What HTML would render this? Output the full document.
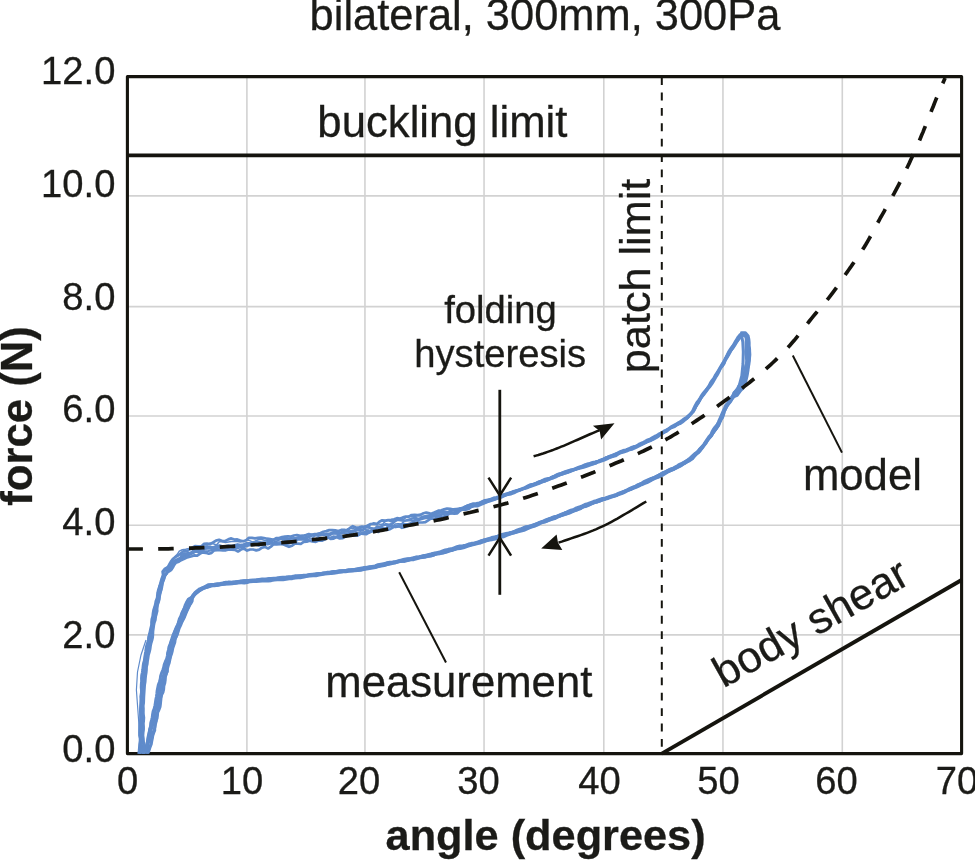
<!DOCTYPE html>
<html lang="en"><head><meta charset="utf-8"><title>bilateral, 300mm, 300Pa</title>
<style>html,body{margin:0;padding:0;background:#fff}svg{display:block}</style></head>
<body>
<svg width="975" height="860" viewBox="0 0 975 860">
<rect width="975" height="860" fill="#fff"/>
<line x1="246.9" y1="76.6" x2="246.9" y2="753.6" stroke="#d2d2d2" stroke-width="1.6"/>
<line x1="364.95" y1="76.6" x2="364.95" y2="753.6" stroke="#d2d2d2" stroke-width="1.6"/>
<line x1="484.05" y1="76.6" x2="484.05" y2="753.6" stroke="#d2d2d2" stroke-width="1.6"/>
<line x1="603.8" y1="76.6" x2="603.8" y2="753.6" stroke="#d2d2d2" stroke-width="1.6"/>
<line x1="722.95" y1="76.6" x2="722.95" y2="753.6" stroke="#d2d2d2" stroke-width="1.6"/>
<line x1="842.3" y1="76.6" x2="842.3" y2="753.6" stroke="#d2d2d2" stroke-width="1.6"/>
<line x1="127.4" y1="195.9" x2="961.6" y2="195.9" stroke="#d2d2d2" stroke-width="1.6"/>
<line x1="127.4" y1="306.6" x2="961.6" y2="306.6" stroke="#d2d2d2" stroke-width="1.6"/>
<line x1="127.4" y1="416.0" x2="961.6" y2="416.0" stroke="#d2d2d2" stroke-width="1.6"/>
<line x1="127.4" y1="525.25" x2="961.6" y2="525.25" stroke="#d2d2d2" stroke-width="1.6"/>
<line x1="127.4" y1="634.85" x2="961.6" y2="634.85" stroke="#d2d2d2" stroke-width="1.6"/>
<rect x="127.4" y="76.6" width="834.2" height="677.0" fill="none" stroke="#15140e" stroke-width="3.1" stroke-linejoin="round"/>
<clipPath id="pc"><rect x="120" y="70" width="850" height="683.7"/></clipPath><g clip-path="url(#pc)">
<polyline points="741.5,332.6 745.4,332.6 748.2,336.0 748.9,339.4 749.2,342.5 749.2,345.6 749.6,348.6 749.7,351.6 749.9,354.6 749.6,357.7 749.4,360.8 749.0,363.9 748.4,366.9 748.1,369.9 747.6,372.9 747.1,375.9 746.4,379.0 745.6,382.2 744.5,385.2 743.2,388.1 740.8,390.4 739.0,393.0 737.2,395.4 734.0,396.6 732.1,399.0 730.7,401.6 728.8,403.9 727.0,406.3 725.7,408.9 724.3,411.6 723.6,414.6 722.6,417.4 721.0,420.0 719.8,422.8 718.6,425.6 716.8,428.0 714.9,430.4 713.1,432.8 711.7,435.5 709.8,437.8 707.8,440.1 706.3,442.8 704.5,445.2 702.7,447.6 700.9,450.0 698.8,452.2 696.4,454.1 694.4,456.4 692.5,458.9 689.9,460.6 687.2,461.9 684.6,463.5 681.9,464.8 679.3,466.3 676.7,468.0 674.0,469.3 671.2,470.4 668.4,471.6 665.9,473.3 663.4,474.9 660.6,476.1 658.0,477.5 655.1,478.5 652.4,479.7 649.8,481.2 647.1,482.6 644.3,483.6 641.5,484.8 638.8,486.2 636.1,487.4 633.3,488.4 630.5,489.7 627.7,490.7 625.0,492.1 622.3,493.5 619.5,494.5 616.6,495.5 613.8,496.4 611.0,497.5 608.1,498.5 605.2,499.2 602.4,500.2 599.6,501.2 596.7,502.0 593.9,503.0 591.1,504.1 588.4,505.4 585.6,506.6 582.6,507.2 579.8,508.3 577.1,509.7 574.5,511.0 571.6,512.1 568.9,513.3 566.0,514.1 563.0,514.7 560.3,516.0 557.6,517.3 554.8,518.6 551.9,519.4 549.1,520.3 546.3,521.5 543.4,522.2 540.6,523.2 537.9,524.8 535.2,526.0 532.3,526.9 529.5,527.9 526.7,529.1 524.0,530.3 521.1,531.1 518.1,531.8 515.2,532.5 512.3,533.4 509.4,534.3 506.7,535.4 503.9,536.8 500.9,537.3 498.0,538.0 495.2,539.1 492.3,539.7 489.3,540.1 486.4,540.9 483.5,542.0 480.7,543.0 477.8,543.6 474.9,544.4 471.9,545.0 469.1,545.9 466.2,546.8 463.4,547.9 460.4,548.5 457.4,548.7 454.5,549.7 451.7,550.5 448.8,551.5 446.0,552.4 443.0,553.1 440.1,553.7 437.1,554.0 434.2,555.0 431.3,555.9 428.4,556.4 425.3,556.4 422.3,557.0 419.5,557.8 416.5,558.4 413.6,558.9 410.6,559.7 407.7,560.5 404.8,561.2 401.8,561.2 398.8,561.6 395.9,562.6 393.0,563.4 390.1,564.1 387.2,564.7 384.3,565.5 381.3,566.0 378.4,566.7 375.5,567.6 372.5,568.0 369.6,568.6 366.6,569.1 363.6,569.6 360.7,570.3 357.7,570.6 354.7,570.8 351.7,571.0 348.7,571.3 345.7,571.7 342.7,571.9 339.7,572.2 336.8,572.9 333.8,573.3 330.8,573.6 327.8,573.7 324.9,574.1 321.9,574.6 319.0,575.2 316.0,575.8 313.0,575.7 310.0,576.1 307.0,576.4 304.1,577.1 301.1,577.7 298.1,577.7 295.1,578.0 292.2,578.7 289.2,578.9 286.2,579.4 283.2,579.7 280.2,579.7 277.2,579.8 274.2,580.1 271.2,580.7 268.2,581.1 265.2,581.1 262.2,581.1 259.2,581.3 256.2,581.5 253.2,581.6 250.2,581.7 247.3,582.5 244.3,583.1 241.3,582.9 238.3,582.9 235.3,583.4 232.3,583.8 229.3,584.0 226.3,584.1 223.4,584.4 220.4,584.8 217.5,585.3 214.5,585.7 211.5,585.9 208.7,586.9 205.9,587.7 203.0,588.4 200.5,590.0 198.0,591.6 195.8,593.6 193.8,595.8 192.0,598.0 192.1,601.4 190.6,604.0 188.8,606.4 187.7,609.2 186.6,612.0 185.4,614.8 184.3,617.6 182.9,620.2 181.6,622.9 180.5,625.7 179.2,628.4 178.3,631.2 177.4,634.1 176.2,636.8 174.7,639.4 173.7,642.2 173.1,645.2 172.1,648.0 170.9,650.8 170.5,653.8 170.2,656.8 169.4,659.7 168.5,662.6 167.4,665.4 167.0,668.4 167.1,671.5 166.2,674.3 165.3,677.2 165.2,680.3 164.8,683.2 163.5,686.0 162.7,688.9 162.1,691.8 161.4,694.7 160.7,697.6 159.9,700.5 159.5,703.5 158.6,706.4 158.3,709.4 157.7,712.3 156.6,715.1 156.3,718.1 156.3,721.2 155.5,724.1 155.1,727.1 154.1,729.9 153.0,732.8 152.5,735.8 151.6,738.7 151.2,741.7 150.9,744.8 149.9,747.7 149.0,750.6 147.9,753.4 147.6,754.3" fill="none" stroke="#5f8bcb" stroke-width="2.9" stroke-linejoin="round" stroke-linecap="round"/>
<polyline points="741.8,334.2 744.9,333.8 747.2,336.4 747.5,339.5 747.7,342.6 748.4,345.6 748.5,348.6 748.0,351.6 748.2,354.6 748.0,357.6 748.2,360.7 748.1,363.7 747.9,366.8 747.5,369.8 747.0,372.8 746.4,375.8 745.6,378.8 744.8,381.8 743.6,384.7 742.0,387.4 740.3,390.0 738.4,392.4 736.6,394.9 733.7,396.4 731.9,398.8 730.1,401.3 728.4,403.7 726.6,406.1 725.3,408.8 724.2,411.6 723.4,414.5 722.2,417.2 720.7,419.9 719.4,422.6 718.2,425.4 716.8,428.1 715.0,430.5 713.1,432.9 711.5,435.4 709.5,437.6 707.5,440.0 706.0,442.6 704.2,445.0 702.4,447.4 700.1,449.3 698.2,451.7 696.4,454.1 694.3,456.3 692.0,458.4 689.3,459.8 687.0,461.6 684.5,463.4 682.1,465.2 679.4,466.6 676.6,467.7 673.9,469.1 671.2,470.4 668.4,471.6 665.6,472.7 663.0,474.1 660.4,475.5 657.8,477.1 654.9,478.1 652.2,479.4 649.6,480.8 646.7,481.8 644.1,483.3 641.3,484.4 638.6,485.6 635.8,486.8 633.1,488.1 630.4,489.4 627.5,490.3 624.8,491.7 622.0,492.7 619.1,493.6 616.6,495.5 613.8,496.4 610.7,496.6 607.9,497.8 605.2,499.1 602.3,499.9 599.6,501.2 596.8,502.2 593.8,502.8 591.0,504.0 588.3,505.1 585.3,505.7 582.7,507.3 580.1,509.0 577.3,510.0 574.3,510.6 571.4,511.5 568.7,512.8 566.0,514.1 563.2,515.2 560.2,515.7 557.4,516.7 554.7,518.2 551.8,519.1 549.0,520.0 546.3,521.5 543.4,522.3 540.5,523.1 537.8,524.4 535.0,525.5 532.0,526.2 529.3,527.3 526.5,528.4 523.5,529.1 520.7,530.0 518.0,531.4 515.2,532.6 512.3,533.3 509.4,534.1 506.4,534.7 503.5,535.4 500.7,536.6 498.0,537.8 495.0,538.5 492.1,539.2 489.1,539.7 486.2,540.3 483.4,541.3 480.4,541.9 477.6,542.9 474.7,543.9 471.8,544.7 468.9,545.3 466.0,545.9 463.1,546.7 460.2,547.6 457.3,548.6 454.5,549.4 451.6,550.3 448.6,550.9 445.8,551.8 443.0,552.9 440.0,553.4 437.0,553.9 434.2,554.9 431.3,555.8 428.4,556.4 425.5,557.2 422.5,557.6 419.5,557.9 416.6,558.9 413.7,559.7 410.7,559.9 407.7,560.4 404.8,561.2 401.8,561.4 398.8,561.9 395.9,562.7 393.0,563.0 390.0,563.7 387.1,564.5 384.2,565.0 381.2,565.5 378.3,566.3 375.4,567.0 372.4,567.4 369.4,567.8 366.5,568.4 363.6,569.3 360.6,569.8 357.7,570.3 354.7,570.6 351.7,570.7 348.7,570.9 345.7,571.1 342.7,571.7 339.7,571.8 336.7,572.0 333.7,572.5 330.7,572.5 327.7,572.8 324.8,573.6 321.9,574.2 318.8,574.3 315.8,574.5 312.9,575.0 309.9,575.3 307.0,576.2 304.0,576.6 301.0,576.8 298.0,577.2 295.0,577.2 292.0,577.4 289.0,577.4 286.0,577.5 283.0,577.9 280.1,578.5 277.1,578.7 274.1,578.8 271.1,579.7 268.2,580.0 265.1,579.8 262.2,580.3 259.2,580.6 256.2,580.4 253.2,580.8 250.2,581.4 247.2,581.7 244.3,582.2 241.3,582.6 238.3,582.8 235.3,583.2 232.3,583.4 229.3,583.5 226.3,583.7 223.3,584.1 220.4,584.7 217.5,585.3 214.5,585.4 211.5,585.7 208.6,586.6 205.9,587.7 203.2,588.7 200.5,590.1 198.2,591.8 195.8,593.6 193.8,595.9 192.5,598.4 191.6,601.2 189.8,603.5 189.1,606.6 187.6,609.2 185.9,611.7 185.0,614.6 183.7,617.3 182.5,620.0 180.9,622.6 179.4,625.2 178.4,628.0 177.7,631.0 177.2,634.0 176.1,636.7 175.2,639.6 174.8,642.5 173.8,645.4 172.8,648.2 172.3,651.1 171.5,654.0 170.5,656.9 169.9,659.8 169.3,662.8 168.3,665.6 167.5,668.5 167.3,671.5 166.0,674.3 165.1,677.1 164.7,680.1 164.2,683.1 163.9,686.1 163.7,689.1 163.1,692.0 161.7,694.8 161.1,697.7 160.8,700.7 160.5,703.7 160.1,706.7 159.1,709.5 157.7,712.3 157.5,715.3 157.1,718.3 155.8,721.1 155.0,724.0 154.6,727.0 154.8,730.1 153.7,732.9 152.8,735.8 152.3,738.8 151.7,741.8 150.9,744.8 149.3,747.5 148.4,750.4 147.3,753.2 147.0,754.1" fill="none" stroke="#5f8bcb" stroke-width="2.9" stroke-linejoin="round" stroke-linecap="round"/>
<polyline points="741.8,334.7 744.8,334.1 746.7,336.7 746.9,339.5 747.6,342.6 747.6,345.6 748.1,348.6 747.9,351.6 748.5,354.6 748.8,357.7 748.8,360.7 748.2,363.8 748.0,366.8 747.1,369.8 746.6,372.7 745.7,375.6 744.5,378.5 743.5,381.4 742.6,384.2 741.3,386.9 739.3,389.2 737.6,391.8 735.7,394.2 733.5,396.3 731.5,398.5 730.0,401.2 728.3,403.6 726.4,406.0 724.9,408.6 723.6,411.3 722.6,414.1 721.0,416.8 720.1,419.6 718.7,422.2 717.2,424.8 716.0,427.6 714.7,430.3 713.2,432.9 711.1,435.1 709.3,437.5 707.7,440.1 705.8,442.4 703.9,444.8 702.2,447.2 700.6,449.8 698.9,452.3 696.4,454.1 694.0,456.0 691.9,458.2 689.3,459.8 686.9,461.5 684.4,463.2 681.6,464.3 678.9,465.6 676.4,467.4 673.9,469.0 671.0,470.0 668.3,471.3 665.6,472.6 662.7,473.4 660.0,474.8 657.3,476.2 654.6,477.5 651.8,478.6 649.1,479.9 646.6,481.5 643.9,482.8 641.1,484.0 638.5,485.4 635.7,486.5 633.0,487.9 630.3,489.3 627.5,490.3 624.8,491.7 622.1,493.0 619.2,493.9 616.5,495.1 613.6,495.9 610.7,496.8 608.0,498.0 605.1,499.0 602.2,499.6 599.4,500.8 596.6,501.9 593.8,502.7 590.9,503.7 587.9,504.3 585.2,505.6 582.6,507.1 579.9,508.4 577.1,509.5 574.1,510.2 571.5,511.7 568.6,512.5 565.5,512.8 562.9,514.5 560.3,516.1 557.3,516.5 554.4,517.3 551.5,518.2 548.7,519.3 545.9,520.4 543.1,521.5 540.4,522.7 537.5,523.7 534.7,524.8 532.0,526.0 529.2,527.1 526.1,527.5 523.3,528.5 520.5,529.6 517.6,530.4 514.9,531.5 512.0,532.5 509.1,533.2 506.3,534.2 503.5,535.5 500.5,536.0 497.6,536.6 494.8,537.7 492.0,538.6 489.1,539.6 486.3,540.6 483.4,541.4 480.4,542.0 477.5,542.6 474.5,543.1 471.7,544.2 468.8,545.0 465.9,545.6 463.0,546.4 460.2,547.5 457.3,548.2 454.4,549.1 451.5,549.8 448.6,550.7 445.7,551.6 442.8,552.3 439.9,553.0 436.9,553.5 434.0,554.2 431.1,554.9 428.1,555.3 425.2,555.7 422.3,556.7 419.3,557.2 416.4,557.8 413.4,558.4 410.5,558.8 407.5,559.5 404.6,559.9 401.7,560.9 398.7,561.3 395.8,562.0 392.8,562.5 389.8,562.8 387.0,563.8 384.1,564.6 381.1,565.1 378.2,566.0 375.3,566.4 372.2,566.6 369.3,567.3 366.4,567.9 363.4,568.3 360.5,568.9 357.5,569.0 354.5,569.4 351.6,569.9 348.6,570.0 345.6,570.5 342.6,571.1 339.6,571.3 336.6,571.6 333.7,572.2 330.8,573.3 327.8,573.5 324.8,573.6 321.8,573.8 318.8,574.1 315.8,574.6 312.8,574.7 309.9,575.0 306.9,575.6 303.9,575.7 300.9,575.8 297.9,576.4 295.0,577.1 292.0,577.2 289.0,577.2 286.0,577.7 283.1,578.0 280.0,578.1 277.0,578.1 274.1,578.7 271.1,578.7 268.1,579.1 265.1,579.6 262.1,579.5 259.1,579.6 256.1,580.1 253.2,580.6 250.1,580.6 247.1,580.6 244.2,581.0 241.2,581.6 238.2,582.0 235.2,582.0 232.2,582.3 229.2,582.9 226.3,583.5 223.3,584.1 220.3,584.3 217.4,584.7 214.4,585.1 211.4,585.4 208.5,586.3 205.7,587.2 202.9,588.1 200.4,589.8 197.9,591.4 195.6,593.5 193.4,595.5 191.6,597.8 190.7,600.7 189.2,603.3 188.1,606.1 186.8,608.8 185.5,611.5 184.2,614.2 182.9,616.9 181.6,619.6 180.1,622.3 178.7,625.0 177.9,627.9 176.9,630.7 175.7,633.5 174.7,636.3 173.6,639.0 172.6,641.9 171.8,644.8 171.6,647.8 170.7,650.7 169.4,653.5 168.5,656.3 167.5,659.2 167.0,662.2 166.5,665.1 165.7,668.0 165.1,671.0 164.1,673.8 163.2,676.7 162.6,679.6 162.2,682.6 161.5,685.5 160.6,688.4 160.2,691.4 159.8,694.4 159.3,697.3 158.9,700.3 157.8,703.1 156.9,706.0 155.8,708.8 155.1,711.8 155.0,714.8 154.6,717.8 154.4,720.8 153.4,723.7 152.1,726.5 151.3,729.4 150.8,732.4 150.4,735.3 149.5,738.2 148.8,741.1 148.2,744.0 147.4,746.9 146.6,749.7 145.3,752.5 144.7,753.2" fill="none" stroke="#5f8bcb" stroke-width="2.9" stroke-linejoin="round" stroke-linecap="round"/>
<polyline points="741.9,335.4 744.3,335.2 746.1,337.0 746.7,339.6 747.0,342.6 746.5,345.6 746.4,348.6 746.5,351.6 746.3,354.6 746.4,357.6 746.7,360.6 746.6,363.6 745.8,366.5 745.2,369.4 744.5,372.3 744.0,375.2 743.4,378.1 742.6,381.0 740.7,383.4 739.3,385.7 738.0,388.2 736.3,390.7 734.1,392.9 732.8,395.8 731.2,398.3 729.8,401.0 728.1,403.5 726.6,406.1 725.5,408.9 723.8,411.4 722.5,414.1 721.6,417.0 720.4,419.8 719.4,422.6 717.8,425.1 716.3,427.7 714.5,430.1 712.7,432.5 711.3,435.2 709.4,437.6 707.5,440.0 705.7,442.4 703.8,444.7 701.8,446.9 699.7,449.0 697.9,451.3 695.9,453.6 693.5,455.4 691.3,457.5 689.2,459.7 686.5,460.9 683.8,462.2 681.6,464.3 678.8,465.5 676.0,466.5 673.4,468.0 670.6,469.1 667.9,470.5 665.3,471.9 662.4,472.9 659.8,474.4 657.3,476.1 654.6,477.4 651.7,478.4 649.0,479.7 646.4,481.2 643.7,482.5 640.9,483.5 638.1,484.6 635.5,486.1 632.7,487.2 629.9,488.3 627.2,489.7 624.5,491.1 621.9,492.4 619.1,493.6 616.4,494.8 613.5,495.7 610.7,496.6 607.9,497.7 605.0,498.6 602.1,499.4 599.2,500.1 596.4,501.1 593.6,502.3 590.9,503.6 588.0,504.6 585.1,505.3 582.4,506.5 579.5,507.4 576.7,508.6 574.0,509.8 571.3,511.2 568.4,512.0 565.4,512.6 562.7,514.0 559.9,515.0 557.1,516.0 554.4,517.4 551.5,518.2 548.6,519.2 546.0,520.6 543.1,521.5 540.3,522.4 537.5,523.5 534.7,524.7 531.8,525.6 529.1,526.8 526.3,527.8 523.3,528.3 520.6,529.6 517.8,530.8 515.0,531.8 512.1,532.7 509.2,533.5 506.4,534.7 503.5,535.3 500.5,535.7 497.6,536.5 494.8,537.6 492.0,538.8 489.1,539.4 486.0,539.6 483.1,540.2 480.3,541.6 477.5,542.7 474.6,543.5 471.7,544.1 468.7,544.6 465.9,545.8 463.0,546.5 460.1,547.1 457.2,548.1 454.3,548.9 451.3,549.4 448.5,550.3 445.6,551.2 442.8,552.1 439.8,552.8 436.8,553.0 433.8,553.4 431.0,554.4 428.1,555.2 425.1,555.4 422.1,556.0 419.3,556.9 416.3,557.3 413.3,557.9 410.4,558.7 407.5,559.1 404.5,559.8 401.6,560.6 398.7,561.1 395.7,561.6 392.8,562.1 389.8,562.5 386.8,563.0 383.9,564.0 381.0,564.6 378.1,565.4 375.2,566.2 372.2,566.7 369.3,567.2 366.3,567.5 363.4,568.0 360.5,568.8 357.5,569.3 354.6,569.6 351.5,569.7 348.6,570.2 345.6,571.0 342.6,570.8 339.6,571.2 336.7,571.7 333.6,571.8 330.7,572.2 327.7,572.6 324.7,572.9 321.8,573.5 318.8,573.7 315.7,573.8 312.8,574.4 309.9,575.0 306.9,575.4 303.9,575.8 300.9,575.9 297.9,576.1 295.0,576.9 292.0,577.3 289.0,577.4 286.0,577.8 283.1,578.1 280.1,578.5 277.1,579.1 274.1,578.7 271.1,578.5 268.1,578.9 265.1,579.1 262.1,579.5 259.1,580.1 256.1,580.3 253.1,580.4 250.2,580.8 247.2,581.0 244.2,581.0 241.2,581.2 238.2,581.6 235.2,582.2 232.2,582.1 229.1,581.9 226.2,582.9 223.3,583.5 220.3,583.9 217.3,584.3 214.3,584.5 211.4,585.1 208.4,585.9 205.5,586.7 202.7,587.8 200.2,589.6 197.7,591.1 195.1,592.9 193.0,595.2 191.5,597.7 188.7,599.5 187.2,602.2 186.1,605.1 184.6,607.8 183.1,610.4 181.7,613.1 180.9,616.0 179.4,618.7 178.6,621.7 177.8,624.6 176.3,627.3 175.3,630.1 174.4,633.0 173.5,635.9 172.3,638.6 171.4,641.5 170.4,644.4 170.0,647.4 168.9,650.2 168.2,653.1 168.2,656.3 167.5,659.2 166.4,662.0 166.3,665.1 165.5,668.0 164.6,670.8 164.3,673.8 163.4,676.7 162.4,679.6 161.4,682.4 160.2,685.2 159.5,688.1 159.1,691.1 158.7,694.1 157.7,697.0 156.6,699.8 155.8,702.7 155.4,705.7 154.8,708.6 154.0,711.5 153.2,714.4 153.0,717.5 152.7,720.5 151.8,723.4 150.8,726.2 149.8,729.1 149.3,732.0 148.9,735.0 148.3,737.9 147.6,740.8 147.0,743.7 146.6,746.6 145.3,749.3 143.9,751.9 143.8,752.9" fill="none" stroke="#5f8bcb" stroke-width="2.9" stroke-linejoin="round" stroke-linecap="round"/>
<polyline points="741.9,335.7 744.4,335.0 746.0,337.0 746.2,339.6 746.1,342.7 746.1,345.7 746.1,348.7 745.8,351.7 746.1,354.6 746.8,357.6 747.1,360.6 746.5,363.5 745.7,366.5 745.2,369.4 744.9,372.4 744.0,375.2 743.2,378.1 742.4,380.9 740.9,383.5 739.1,385.6 737.7,388.0 736.0,390.5 734.0,392.8 732.8,395.7 731.0,398.2 729.3,400.7 727.5,403.1 725.6,405.5 724.4,408.3 723.1,411.1 721.9,413.8 720.8,416.7 719.5,419.3 718.4,422.1 717.1,424.7 715.1,427.0 713.3,429.3 711.9,432.0 710.7,434.8 708.6,437.1 706.9,439.5 705.3,442.1 703.7,444.6 701.8,446.9 699.8,449.1 697.9,451.4 695.4,453.1 693.2,455.1 691.0,457.1 688.8,459.0 686.5,460.8 684.0,462.4 681.2,463.6 678.5,464.9 676.1,466.8 673.5,468.2 670.6,469.1 667.9,470.4 665.2,471.7 662.5,473.1 659.9,474.7 657.2,475.9 654.5,477.3 651.7,478.4 648.9,479.4 646.1,480.5 643.4,481.8 641.0,483.6 638.3,485.1 635.7,486.5 632.8,487.5 630.1,488.8 627.4,490.0 624.6,491.1 621.7,492.1 618.9,493.1 616.2,494.3 613.4,495.4 610.5,496.1 607.7,497.1 604.9,498.2 601.8,498.5 599.0,499.5 596.2,500.6 593.3,501.5 590.5,502.6 587.7,503.7 584.8,504.5 582.1,505.8 579.3,507.0 576.5,507.9 573.8,509.3 570.9,510.1 568.1,511.4 565.5,512.8 562.6,513.7 559.8,514.8 557.1,516.1 554.1,516.7 551.3,517.8 548.5,518.8 545.7,519.9 543.0,521.2 540.1,522.1 537.4,523.4 534.6,524.3 531.7,525.3 528.8,526.1 525.8,526.6 523.1,527.8 520.3,529.0 517.5,529.9 514.7,531.1 511.9,532.1 509.0,532.8 506.0,533.4 503.1,534.1 500.3,535.0 497.5,536.1 494.6,536.8 491.6,537.5 488.8,538.5 485.9,539.3 483.1,540.2 480.2,541.0 477.3,542.0 474.5,543.1 471.5,543.3 468.6,544.0 465.7,545.1 462.8,545.7 459.8,546.0 456.9,546.7 454.0,547.8 451.2,548.8 448.2,549.3 445.3,549.9 442.5,550.9 439.6,552.0 436.7,552.6 433.8,553.1 430.9,553.9 428.0,554.6 425.1,555.3 422.2,556.1 419.2,556.6 416.2,557.0 413.3,557.8 410.4,558.5 407.4,558.6 404.4,559.2 401.5,560.0 398.6,560.7 395.7,561.6 392.7,562.0 389.7,562.2 386.7,562.8 383.8,563.6 380.9,564.1 377.9,564.7 375.1,565.8 372.2,566.5 369.2,566.7 366.3,567.3 363.4,567.8 360.4,568.1 357.5,568.8 354.5,569.5 351.6,569.8 348.6,570.0 345.6,570.5 342.6,570.7 339.6,570.8 336.6,571.2 333.6,571.4 330.6,571.9 327.6,572.2 324.7,572.8 321.7,573.2 318.7,573.4 315.8,574.1 312.8,574.2 309.8,574.4 306.8,574.9 303.8,575.1 300.9,575.6 297.8,575.6 294.9,575.8 291.9,576.4 288.9,576.6 286.0,577.0 283.0,577.1 280.0,577.5 277.0,577.9 274.0,578.2 271.0,578.5 268.1,578.8 265.1,579.1 262.1,579.0 259.1,579.4 256.1,579.9 253.1,580.0 250.1,580.3 247.1,580.8 244.1,580.8 241.1,580.9 238.2,581.4 235.2,582.0 232.2,582.4 229.2,582.5 226.1,582.3 223.2,582.8 220.2,583.5 217.2,583.6 214.3,584.1 211.2,584.4 208.1,584.8 205.4,586.3 202.7,587.7 199.7,588.8 197.2,590.6 194.9,592.6 193.0,595.1 191.2,597.5 188.3,599.3 186.7,602.0 185.3,604.8 184.4,607.7 183.3,610.5 182.5,613.5 181.2,616.2 180.1,619.0 178.9,621.8 177.8,624.6 176.6,627.3 175.2,630.1 174.0,632.9 172.8,635.6 171.9,638.5 170.9,641.4 170.0,644.2 168.9,647.1 168.4,650.1 167.6,653.0 167.3,656.0 166.6,658.9 165.3,661.7 164.2,664.5 163.6,667.5 162.7,670.3 161.5,673.1 160.6,676.0 160.2,679.0 159.4,681.9 158.3,684.8 157.7,687.7 157.1,690.7 156.8,693.7 156.4,696.7 155.8,699.6 155.4,702.6 154.9,705.6 154.2,708.5 153.1,711.3 152.6,714.3 152.2,717.3 151.5,720.2 150.7,723.1 150.5,726.2 149.8,729.1 149.3,732.0 148.5,734.9 147.9,737.8 147.6,740.8 147.0,743.7 146.0,746.4 145.2,749.2 144.4,752.2 143.8,752.9" fill="none" stroke="#5f8bcb" stroke-width="2.9" stroke-linejoin="round" stroke-linecap="round"/>
<polyline points="138.7,753.4 139.1,750.4 139.4,747.4 139.7,744.5 140.1,741.5 140.2,738.5 139.5,735.5 139.5,732.5 139.6,729.5 139.8,726.5 140.2,723.5 140.7,720.5 140.9,717.5 140.8,714.5 140.3,711.5 140.4,708.5 140.7,705.5 140.7,702.5 140.8,699.5 140.8,696.5 141.4,693.5 141.4,690.5 141.1,687.4 141.2,684.4 141.5,681.4 141.4,678.3 141.6,675.3 142.3,672.3 142.7,669.3 143.0,666.3 143.4,663.4 144.3,660.4 144.6,657.4 145.1,654.4 145.6,651.5 146.0,648.5 146.6,645.5 147.6,642.7 148.3,639.8 148.8,636.8 149.5,633.9 150.1,631.0 150.7,628.0 151.5,625.1 151.5,622.1 151.8,619.1 152.7,616.2 153.0,613.2 153.5,610.2 154.5,607.3 155.3,604.4 155.8,601.4 157.0,598.6 157.7,595.7 157.7,592.6 158.4,589.6 159.3,586.8 160.2,583.9 161.0,581.0 162.1,578.1 163.1,575.2 162.6,571.5 164.6,569.0 167.8,567.3 169.3,564.5 170.9,561.6 172.8,559.1 175.3,557.1 178.1,555.5 180.7,553.5 183.1,551.4 186.6,551.4 189.4,549.8 192.0,547.6 194.9,546.2 198.1,546.3 201.3,546.4 203.9,543.9 207.0,543.6 210.2,544.1 213.0,542.5 216.0,540.6 219.1,539.8 222.3,541.1 225.3,541.0 228.3,539.4 231.3,538.4 234.3,539.6 237.3,539.4 240.3,540.5 243.4,541.3 246.2,540.3 248.9,537.8 251.9,537.9 255.0,538.3 258.0,537.9 261.0,537.5 264.0,538.0 267.1,538.7 270.2,539.2 273.3,539.8 276.1,538.2 279.1,538.0 282.1,537.1 285.0,536.6 288.0,536.3 291.0,536.5 293.9,535.5 296.9,535.0 300.0,535.8 302.9,535.7 305.9,535.0 308.8,534.1 311.8,534.7 314.7,534.0 317.7,533.8 320.6,533.0 323.4,531.7 326.3,531.1 329.2,530.1 332.2,530.1 335.3,530.4 338.4,531.0 341.3,529.9 344.3,529.8 347.5,530.5 350.0,527.8 352.8,526.2 356.2,527.8 359.1,527.4 362.0,526.6 365.2,527.1 367.9,525.4 370.7,524.0 373.7,523.9 376.8,524.2 379.4,521.8 382.2,520.3 385.3,520.6 388.2,520.0 391.2,519.9 394.1,519.3 397.0,518.2 400.1,518.5 402.9,517.4 405.8,516.6 408.9,516.7 411.6,515.0 414.6,514.8 417.7,515.0 420.7,514.6 423.5,513.3 426.3,512.5 429.6,513.3 432.8,514.0 435.5,511.9 438.3,510.6 441.3,510.4 444.2,509.4 447.1,508.5 450.2,508.8 453.4,509.6 456.4,509.4 459.3,508.7 462.2,508.2 464.9,506.8 467.7,505.7 470.5,504.6 473.3,503.6 476.3,503.3 479.4,502.9 482.1,501.5 484.9,500.3 487.9,499.9 490.8,499.1 493.5,497.9 496.4,497.2 499.3,496.4 502.1,495.3 504.9,494.2 507.8,493.3 510.6,492.4 513.4,491.3 516.4,490.6 519.2,489.7 522.0,488.5 524.8,487.4 527.5,486.0 530.1,484.6 533.1,484.0 536.0,483.0 538.7,481.8 541.5,480.7 544.2,479.4 547.1,478.6 550.1,478.1 552.9,477.0 555.5,475.4 558.2,474.0 561.1,473.2 563.9,472.1 566.7,471.0 569.6,470.2 572.6,469.7 575.4,468.5 578.1,467.3 581.0,466.4 583.8,465.1 586.7,464.4 589.6,463.6 592.3,462.4 595.3,461.9 598.2,461.0 600.9,459.7 603.7,458.7 606.4,457.6 609.1,456.2 612.0,455.3 614.8,454.3 617.5,452.9 620.2,451.5 623.0,450.4 626.0,449.7 628.8,448.6 631.5,447.3 634.4,446.4 637.2,445.4 639.7,443.7 642.5,442.6 645.1,441.2 647.7,439.7 650.5,438.7 653.0,437.1 655.6,435.8 658.2,434.3 660.8,432.9 663.4,431.3 666.1,430.0 668.8,428.5 671.1,426.6 673.8,425.1 676.5,423.7 679.0,422.3 681.5,420.7 683.8,418.9 686.3,417.3 688.6,415.4 690.7,413.4 692.5,411.1 693.7,408.4 695.0,405.6 696.5,402.9 698.3,400.5 700.0,398.0 701.5,395.3 703.3,392.9 705.2,390.6 707.1,388.3 708.9,385.9 710.2,383.1 711.8,380.6 713.6,378.3 715.0,375.6 716.7,373.1 718.3,370.6 719.7,367.9 721.2,365.4 722.8,362.8 724.3,360.2 725.7,357.6 727.1,354.9 728.4,352.1 730.0,349.6 731.7,347.1 733.5,344.7 734.9,342.0 736.5,339.4 738.1,336.8 740.1,334.5 741.1,334.0" fill="none" stroke="#5f8bcb" stroke-width="2.7" stroke-linejoin="round" stroke-linecap="round"/>
<polyline points="140.2,753.5 140.1,750.5 140.2,747.5 140.5,744.5 140.6,741.5 140.3,738.5 140.5,735.5 140.7,732.5 140.5,729.5 140.6,726.5 140.3,723.5 140.1,720.5 140.0,717.5 140.0,714.5 140.2,711.5 140.2,708.5 140.3,705.5 140.7,702.5 140.9,699.5 141.0,696.5 140.8,693.4 140.9,690.4 141.1,687.4 141.6,684.4 142.1,681.4 142.5,678.4 143.2,675.5 144.0,672.5 144.4,669.6 144.6,666.6 144.7,663.5 145.1,660.6 146.2,657.7 146.8,654.8 147.8,651.9 147.8,648.8 147.7,645.7 148.4,642.8 148.7,639.8 149.7,637.0 150.4,634.0 150.4,631.0 151.2,628.1 152.0,625.2 152.5,622.2 152.5,619.2 153.0,616.2 153.8,613.3 154.3,610.4 155.0,607.4 155.5,604.5 156.0,601.5 156.6,598.5 156.7,595.4 157.5,592.5 158.4,589.6 159.1,586.7 160.3,583.9 161.0,581.0 161.5,577.9 162.7,575.0 163.4,571.9 165.7,569.6 168.9,568.2 170.3,565.3 171.8,562.6 173.3,559.7 174.9,556.5 177.3,554.3 179.3,551.1 182.3,549.7 185.7,549.3 189.0,548.6 192.5,549.5 195.5,548.5 198.3,547.1 201.3,546.4 204.1,545.1 207.2,545.0 210.0,543.0 213.2,543.8 216.5,545.0 219.2,541.7 222.3,541.8 225.4,542.4 228.4,541.9 231.4,541.6 234.4,541.4 237.4,541.4 240.4,541.9 243.4,541.3 246.2,539.8 249.2,540.4 252.3,541.9 255.3,541.2 258.1,539.6 261.1,539.2 264.3,540.2 267.3,540.7 270.4,541.2 273.5,541.9 276.4,541.3 279.3,539.8 282.2,538.8 285.1,537.5 288.2,538.1 291.2,538.4 294.2,537.8 297.2,538.4 300.1,537.3 303.2,537.7 306.3,538.3 309.2,537.3 312.0,536.1 314.9,535.4 318.0,535.5 320.8,534.5 323.8,533.8 326.8,533.9 329.8,533.9 332.5,531.9 335.5,531.4 338.9,533.4 342.0,533.7 344.6,531.6 347.2,529.0 350.1,528.3 353.2,528.6 356.1,527.4 359.3,528.5 362.3,528.0 364.9,525.7 368.0,526.1 370.8,524.7 373.5,522.8 376.7,523.4 379.9,524.4 382.8,523.9 385.4,521.4 388.3,520.6 391.6,522.0 394.3,519.9 397.0,518.5 400.3,519.6 403.3,519.4 406.0,517.6 408.8,516.3 411.9,516.7 415.0,516.5 417.9,515.8 421.0,516.1 424.2,516.7 427.4,517.0 430.0,514.9 432.5,512.6 435.5,511.9 438.6,512.3 441.5,511.3 444.1,509.1 447.2,509.0 450.3,509.3 453.2,508.8 456.1,508.5 459.2,508.4 462.1,507.9 464.8,506.5 467.4,504.9 470.4,504.3 473.5,504.2 476.5,503.6 479.5,503.2 482.2,501.8 484.9,500.3 487.8,499.7 490.9,499.4 493.6,498.3 496.6,497.5 499.4,496.7 502.0,495.1 504.8,493.8 507.8,493.3 510.7,492.6 513.4,491.3 516.2,490.1 519.1,489.3 522.1,488.8 524.8,487.3 527.4,485.8 530.3,485.1 533.2,484.2 535.9,482.9 538.6,481.5 541.4,480.5 544.2,479.5 547.1,478.6 549.9,477.4 552.5,476.0 555.5,475.4 558.4,474.5 561.1,473.1 563.9,472.1 566.8,471.1 569.6,470.2 572.6,469.5 575.5,468.7 578.2,467.5 581.0,466.4 584.0,465.9 586.9,465.1 589.7,463.9 592.4,462.8 595.3,461.8 598.1,460.9 600.9,459.9 603.7,458.8 606.5,457.6 609.3,456.7 612.1,455.5 614.8,454.2 617.6,453.2 620.5,452.2 623.2,450.9 626.1,450.0 629.0,449.1 631.6,447.7 634.4,446.5 637.3,445.6 640.0,444.3 642.7,443.1 645.3,441.6 647.9,440.2 650.7,439.1 653.3,437.6 656.1,436.6 659.0,435.7 661.4,433.7 663.6,431.6 666.3,430.3 668.7,428.4 671.3,426.8 674.3,426.0 676.7,424.2 679.4,422.8 682.2,421.8 684.6,419.9 687.0,418.0 689.1,415.9 690.8,413.5 692.8,411.3 694.4,408.8 695.9,406.2 697.2,403.4 698.5,400.6 700.0,398.0 701.8,395.6 703.8,393.3 705.9,391.1 707.9,388.8 709.1,386.0 710.6,383.4 712.7,381.2 714.0,378.5 715.3,375.8 716.8,373.2 718.2,370.5 719.9,368.1 721.6,365.6 723.1,363.0 724.3,360.2 725.5,357.4 726.7,354.7 728.7,352.3 730.5,349.9 731.9,347.3 733.7,344.8 735.5,342.4 737.5,340.2 739.2,337.7 740.8,335.1 741.4,334.3" fill="none" stroke="#5f8bcb" stroke-width="1.5" stroke-linejoin="round" stroke-linecap="round"/>
<polyline points="139.6,753.5 139.6,750.5 139.8,747.5 139.9,744.5 140.2,741.5 140.7,738.5 140.9,735.5 141.4,732.5 140.7,729.5 140.3,726.5 140.3,723.5 140.6,720.5 141.2,717.5 140.8,714.5 141.0,711.5 141.3,708.5 141.1,705.5 141.4,702.5 141.4,699.5 141.1,696.5 141.1,693.5 141.7,690.5 142.2,687.5 142.5,684.5 142.9,681.5 143.3,678.5 143.3,675.5 143.6,672.5 144.0,669.5 144.0,666.5 144.4,663.5 144.9,660.5 145.3,657.5 145.8,654.6 146.4,651.6 146.7,648.6 147.6,645.7 148.4,642.8 148.6,639.8 148.8,636.8 149.7,633.9 151.0,631.1 151.8,628.2 152.0,625.2 152.5,622.2 153.0,619.3 153.5,616.3 154.5,613.4 154.8,610.4 155.6,607.5 156.5,604.7 157.3,601.7 158.2,598.9 158.9,595.9 159.3,592.9 159.5,589.9 160.5,587.1 161.1,584.2 162.3,581.4 163.2,578.5 163.7,575.4 163.6,572.0 165.6,569.6 167.8,567.3 170.5,565.5 172.6,563.3 174.3,560.9 177.1,559.5 179.8,558.1 182.5,556.8 185.2,555.7 187.4,553.3 190.6,553.2 193.5,552.7 196.1,551.2 199.5,552.5 202.3,551.3 204.8,548.6 207.8,548.5 210.8,547.9 213.7,547.2 216.6,546.0 219.6,545.4 222.7,546.4 225.7,546.3 228.6,545.5 231.7,546.0 234.6,545.2 237.6,544.4 240.6,545.0 243.6,544.5 246.5,543.3 249.5,543.2 252.5,543.3 255.3,541.8 258.4,541.9 261.5,542.6 264.5,542.5 267.5,542.2 270.3,540.5 273.3,539.7 276.3,539.4 279.3,539.3 282.2,538.5 285.3,539.0 288.3,539.2 291.2,538.2 294.3,538.7 297.2,537.9 300.1,536.8 303.2,537.9 306.3,538.5 309.0,536.2 311.8,534.7 314.9,535.0 317.7,534.0 320.8,534.3 323.9,535.1 326.8,533.8 329.8,533.6 332.7,533.2 335.7,532.8 338.8,533.1 341.8,532.9 344.6,531.4 347.6,531.2 350.7,531.6 353.6,530.6 356.5,529.5 359.6,530.2 362.7,530.4 365.2,527.4 368.1,526.4 371.6,528.9 374.7,529.2 377.5,527.9 380.4,526.9 383.1,525.4 386.0,524.2 389.1,524.7 392.0,523.9 394.6,521.5 397.3,519.8 400.5,520.3 403.6,520.7 406.6,520.2 409.5,519.4 412.3,518.6 415.3,518.0 418.5,518.9 421.4,517.9 424.1,516.4 427.1,515.7 430.1,515.4 433.1,515.4 435.9,514.0 438.7,512.8 441.7,512.3 444.7,511.9 447.8,512.1 450.6,510.7 453.5,510.0 456.6,510.3 459.3,509.0 462.4,508.7 465.4,508.5 468.0,506.6 470.6,505.0 473.6,504.7 476.7,504.3 479.4,503.0 482.3,502.1 484.9,500.6 487.9,500.0 491.1,500.0 494.0,499.4 496.9,498.4 499.6,497.2 502.5,496.3 505.3,495.1 508.0,493.8 510.7,492.7 513.6,491.8 516.5,490.8 519.3,490.0 522.2,489.1 525.0,487.9 527.7,486.8 530.5,485.5 533.3,484.4 536.1,483.4 538.9,482.3 541.7,481.2 544.5,480.3 547.4,479.3 550.1,478.1 552.8,476.8 555.5,475.3 558.3,474.3 561.1,473.2 564.0,472.3 566.9,471.4 569.7,470.3 572.6,469.5 575.5,468.8 578.4,468.0 581.2,466.9 583.9,465.5 586.6,464.1 589.5,463.4 592.5,462.9 595.4,462.1 598.3,461.3 601.1,460.3 603.8,458.9 606.4,457.5 609.2,456.5 612.1,455.5 614.9,454.3 617.6,453.2 620.5,452.2 623.3,451.2 626.1,450.1 629.0,449.2 631.8,448.0 634.5,446.7 637.3,445.7 640.2,444.9 642.9,443.5 645.6,442.2 648.4,441.2 651.0,439.7 653.7,438.4 656.3,436.9 658.9,435.5 661.4,433.8 663.9,432.1 666.4,430.4 668.9,428.8 671.8,427.8 674.7,426.7 677.2,425.0 679.5,422.9 681.9,421.3 684.5,419.8 687.2,418.3 689.4,416.1 691.0,413.6 692.9,411.4 694.6,408.9 696.0,406.2 697.5,403.6 699.4,401.2 700.9,398.6 702.4,396.0 704.0,393.5 705.7,391.0 707.5,388.5 709.2,386.1 710.9,383.6 712.8,381.3 714.3,378.7 715.8,376.1 717.6,373.6 718.7,370.9 720.2,368.2 721.5,365.5 723.4,363.2 724.9,360.6 726.1,357.8 727.9,355.3 729.5,352.8 731.0,350.2 732.5,347.6 733.8,344.9 735.5,342.4 737.7,340.3 739.6,337.9 741.4,335.5 741.8,334.6" fill="none" stroke="#5f8bcb" stroke-width="2.6" stroke-linejoin="round" stroke-linecap="round"/>
<polyline points="140.9,753.5 141.2,750.5 140.9,747.5 141.1,744.5 141.2,741.5 140.8,738.5 141.0,735.5 141.4,732.5 141.5,729.5 141.7,726.5 141.5,723.5 141.0,720.5 141.1,717.5 141.2,714.5 140.9,711.5 141.4,708.5 141.6,705.5 141.1,702.5 141.4,699.5 141.9,696.5 142.0,693.5 142.2,690.5 142.8,687.5 143.0,684.5 142.6,681.5 143.1,678.5 144.0,675.6 144.1,672.6 144.2,669.5 144.4,666.5 144.8,663.6 145.6,660.6 146.4,657.7 146.9,654.8 147.3,651.8 147.8,648.8 148.5,645.9 149.1,643.0 149.7,640.0 150.6,637.1 151.5,634.2 152.4,631.3 153.1,628.4 153.0,625.4 153.4,622.4 154.0,619.4 154.0,616.4 154.9,613.5 156.5,610.8 157.1,607.8 157.2,604.8 157.8,601.9 158.8,599.0 159.2,596.0 159.4,593.0 160.2,590.1 161.2,587.3 162.0,584.4 162.5,581.5 163.5,578.6 164.7,575.9 166.4,573.4 167.6,570.8 169.5,568.6 171.2,566.1 173.2,564.0 174.9,561.6 177.4,559.9 179.9,558.3 182.3,556.5 185.5,556.4 188.4,555.5 190.5,553.0 193.1,551.4 196.3,551.8 199.5,552.5 202.3,551.5 205.4,551.5 208.3,551.2 211.2,550.7 214.0,549.5 216.9,548.5 219.8,547.4 222.8,547.7 225.8,548.0 228.7,546.2 231.8,548.1 234.7,547.2 237.7,545.6 240.7,546.6 243.8,547.6 246.7,545.8 249.7,545.4 252.7,545.2 255.6,544.2 258.6,543.7 261.5,543.1 264.5,543.1 267.5,542.2 270.5,542.5 273.6,542.9 276.5,542.1 279.5,542.1 282.5,541.4 285.4,540.1 288.3,539.0 291.3,538.9 294.2,538.2 297.1,537.2 300.1,536.9 303.2,537.5 306.0,536.5 309.3,538.2 312.3,538.0 315.0,535.6 318.0,535.7 320.9,535.2 323.9,535.1 327.0,535.1 329.9,534.2 332.7,533.1 335.8,533.4 338.8,532.9 341.6,531.7 345.0,533.6 348.0,533.6 350.6,530.7 353.6,530.7 357.0,532.3 359.9,531.9 362.6,529.6 365.6,529.3 368.6,529.1 371.4,527.7 374.5,528.2 377.6,528.3 380.6,527.9 383.0,525.0 386.1,525.1 389.5,526.5 392.5,526.4 395.1,524.1 398.1,523.7 401.2,524.1 403.8,521.6 406.7,520.6 409.8,520.8 412.8,520.7 415.6,519.4 418.6,519.1 421.5,518.4 424.5,517.9 427.6,518.2 430.6,518.0 433.3,516.2 435.8,513.7 439.0,513.9 442.0,514.0 444.9,513.0 447.9,512.5 450.8,512.1 453.9,512.0 456.8,511.1 459.7,510.2 462.7,509.9 465.4,508.5 468.3,507.7 471.2,507.0 473.9,505.4 476.7,504.4 479.8,504.2 482.8,503.7 485.6,502.5 488.3,501.4 491.0,500.0 493.8,498.7 496.8,498.2 499.8,497.6 502.5,496.5 505.3,495.4 508.0,494.1 510.8,492.9 513.8,492.2 516.6,491.2 519.4,490.3 522.2,489.1 525.0,488.0 527.9,487.2 530.6,485.9 533.4,484.7 536.3,484.0 539.0,482.6 541.7,481.3 544.6,480.4 547.4,479.4 550.0,477.8 552.9,477.0 555.8,476.1 558.5,474.8 561.3,473.7 564.2,472.8 567.0,471.8 569.8,470.7 572.6,469.8 575.6,469.2 578.5,468.4 581.4,467.6 584.3,466.8 587.1,465.7 589.9,464.6 592.8,463.8 595.6,462.8 598.4,461.7 601.2,460.5 603.9,459.3 606.7,458.1 609.5,457.0 612.3,456.0 615.2,455.2 618.0,454.1 620.8,452.9 623.5,451.7 626.3,450.6 629.0,449.2 631.9,448.3 634.9,447.6 637.5,446.1 640.2,444.8 643.0,443.8 645.6,442.3 648.3,440.9 651.2,440.0 653.9,438.9 656.4,437.1 658.9,435.5 661.2,433.5 663.9,432.1 666.6,430.8 669.0,429.0 671.7,427.5 674.4,426.3 677.1,424.9 679.6,423.2 681.9,421.2 684.1,419.3 686.5,417.5 688.5,415.3 690.4,413.1 692.6,411.2 694.5,408.8 695.9,406.2 696.9,403.2 698.6,400.7 700.2,398.1 701.7,395.5 703.7,393.2 705.2,390.6 706.8,388.0 708.8,385.8 710.9,383.6 712.5,381.1 714.0,378.5 715.8,376.1 717.6,373.6 718.9,371.0 720.2,368.2 721.5,365.5 723.1,363.0 725.0,360.6 726.6,358.1 728.0,355.4 729.3,352.7 731.0,350.2 732.9,347.9 734.5,345.3 736.3,343.0 737.9,340.4 739.5,337.9 741.1,335.3 742.1,334.8" fill="none" stroke="#5f8bcb" stroke-width="1.5" stroke-linejoin="round" stroke-linecap="round"/>
<polyline points="141.4,753.5 141.4,750.5 141.5,747.5 141.2,744.5 141.0,741.5 141.2,738.5 141.2,735.5 141.4,732.5 141.5,729.5 141.9,726.5 142.4,723.5 142.3,720.5 142.0,717.5 142.3,714.5 143.0,711.5 143.1,708.5 142.4,705.5 142.5,702.5 142.8,699.5 142.8,696.5 142.7,693.5 142.6,690.5 142.3,687.5 143.5,684.6 143.5,681.6 143.8,678.6 144.1,675.6 144.0,672.5 144.7,669.6 145.2,666.6 145.3,663.6 145.7,660.6 146.4,657.7 147.3,654.8 148.1,651.9 148.4,648.9 149.0,646.0 149.7,643.1 150.0,640.1 150.4,637.1 151.0,634.1 151.5,631.2 152.2,628.3 152.5,625.3 153.1,622.3 154.2,619.5 153.8,616.4 154.4,613.4 156.0,610.7 156.1,607.6 156.6,604.7 157.0,601.7 157.6,598.7 158.5,595.8 158.7,592.8 159.2,589.8 159.5,586.8 160.7,584.1 162.0,581.3 162.9,578.4 164.5,575.8 166.9,573.6 166.4,570.1 167.8,567.3 170.4,565.4 172.0,562.7 175.0,561.6 178.5,561.4 180.3,559.0 181.5,555.0 184.2,553.6 187.7,554.0 190.5,553.0 193.0,551.1 195.7,549.5 199.0,550.0 201.9,549.5 204.6,547.5 207.5,546.5 210.6,547.0 213.8,547.6 216.8,547.6 219.7,547.3 222.8,547.6 225.7,547.0 228.7,546.9 231.7,546.7 234.8,548.1 237.7,546.7 240.7,546.0 243.7,546.1 246.7,546.1 249.6,544.9 252.6,544.1 255.7,544.8 258.8,545.6 261.7,544.7 264.6,543.9 267.7,544.3 270.6,543.3 273.6,543.5 276.6,543.5 279.6,543.5 282.7,543.9 285.8,544.6 288.7,543.4 291.6,542.5 294.7,542.9 297.3,539.4 300.3,539.2 303.4,539.5 306.4,539.5 309.6,540.7 312.7,541.0 315.7,540.7 318.6,540.1 321.7,540.6 324.4,538.3 327.3,537.0 330.6,538.9 333.6,538.6 336.4,537.0 339.2,535.5 342.3,535.9 345.5,536.2 348.4,535.5 351.5,535.7 354.4,535.0 357.2,533.4 360.2,533.5 363.4,534.0 366.5,534.2 369.2,532.5 372.0,531.0 374.7,529.2 377.2,526.5 380.4,527.1 383.9,529.3 386.7,528.0 389.2,525.3 392.4,526.0 395.7,527.1 398.6,526.4 401.3,524.4 404.3,524.1 407.5,524.5 410.3,523.5 413.0,521.9 415.8,520.2 418.7,519.8 421.6,518.9 424.5,517.9 427.5,517.6 430.3,516.3 433.2,515.8 436.4,516.4 439.4,515.9 442.1,514.3 445.0,513.6 448.0,513.2 451.1,513.5 454.1,513.0 456.9,511.7 459.7,510.4 462.5,509.4 465.4,508.6 468.3,507.8 471.0,506.2 473.7,504.8 476.8,504.6 479.7,503.9 482.5,502.7 485.4,501.9 488.2,501.0 490.9,499.6 493.8,498.7 496.7,498.0 499.6,497.1 502.4,496.1 505.3,495.2 508.0,494.0 510.9,493.1 513.8,492.3 516.5,490.9 519.2,489.7 522.2,489.1 525.1,488.4 527.9,487.2 530.5,485.6 533.4,484.9 536.3,484.1 539.1,482.9 541.9,481.7 544.7,480.6 547.6,479.8 550.4,478.8 553.0,477.2 555.8,476.0 558.7,475.3 561.6,474.6 564.4,473.6 567.3,472.7 570.1,471.7 572.9,470.5 575.6,469.3 578.5,468.3 581.3,467.2 584.2,466.6 587.0,465.5 589.8,464.3 592.7,463.5 595.5,462.6 598.3,461.3 601.1,460.3 603.8,459.1 606.5,457.7 609.5,457.1 612.4,456.1 615.0,454.7 617.8,453.7 620.6,452.4 623.3,451.1 626.2,450.3 629.0,449.3 631.8,448.0 634.6,446.9 637.4,445.8 640.2,444.7 642.9,443.6 645.8,442.7 648.4,441.2 651.1,439.9 653.8,438.7 656.2,436.9 658.9,435.5 661.5,433.9 664.0,432.2 666.6,430.8 669.0,429.0 671.5,427.2 674.2,425.8 676.9,424.6 679.5,423.1 681.9,421.2 684.5,419.8 686.9,418.0 689.1,415.9 691.2,413.8 692.9,411.4 694.4,408.8 695.9,406.1 697.7,403.7 699.3,401.1 700.5,398.4 702.4,396.0 704.2,393.6 706.0,391.2 707.8,388.8 709.5,386.3 711.3,383.9 712.9,381.3 714.2,378.6 715.6,375.9 716.9,373.2 718.9,370.9 720.4,368.4 722.0,365.8 723.6,363.3 724.6,360.4 726.2,357.8 727.9,355.3 729.1,352.6 730.5,349.9 732.1,347.4 733.7,344.8 735.7,342.5 737.7,340.3 739.6,337.9 741.4,335.6 742.1,334.9" fill="none" stroke="#5f8bcb" stroke-width="2.6" stroke-linejoin="round" stroke-linecap="round"/>
<polyline points="142.5,753.5 142.7,750.6 142.3,747.5 142.9,744.6 142.5,741.5 142.2,738.5 142.2,735.5 142.5,732.5 142.9,729.5 142.6,726.5 142.7,723.5 143.3,720.5 143.2,717.5 142.8,714.5 142.9,711.5 142.7,708.5 142.9,705.5 143.3,702.5 143.4,699.5 143.7,696.6 143.7,693.6 143.4,690.6 143.7,687.6 144.5,684.7 144.2,681.6 144.4,678.6 144.9,675.7 145.3,672.7 145.9,669.8 146.4,666.8 146.7,663.8 147.0,660.9 147.4,657.9 147.6,654.9 148.0,651.9 148.9,649.0 149.7,646.1 150.4,643.2 151.0,640.2 151.5,637.3 152.2,634.4 152.9,631.4 153.3,628.5 153.5,625.4 154.0,622.5 155.0,619.6 155.6,616.7 156.2,613.8 156.9,610.8 157.6,607.9 157.9,604.9 158.7,602.0 159.2,599.1 159.7,596.1 160.7,593.3 161.7,590.5 162.4,587.6 162.9,584.7 163.3,581.8 164.3,578.9 165.5,576.2 166.8,573.6 168.5,571.3 170.1,569.0 171.7,566.5 173.5,564.3 175.6,562.3 178.1,560.8 180.6,559.4 183.1,557.9 185.4,556.1 188.4,555.6 191.1,554.5 193.6,552.9 196.3,551.7 199.4,552.0 202.3,551.3 205.3,551.0 208.3,550.8 211.1,549.8 214.1,549.6 217.1,550.2 220.0,549.8 222.7,547.1 225.8,547.8 228.8,548.5 231.7,546.8 234.8,548.5 237.8,548.5 240.8,547.5 243.7,546.4 246.6,544.7 249.6,544.6 252.8,545.8 255.6,544.6 258.6,543.9 261.6,544.2 264.6,543.6 267.6,543.5 270.6,543.8 273.5,542.5 276.6,543.0 279.7,544.4 282.4,541.1 285.3,539.3 288.5,541.1 291.6,542.2 294.6,541.6 297.2,538.4 300.2,538.2 303.4,539.4 306.6,541.0 309.6,540.6 312.5,539.7 315.4,539.1 318.1,536.8 321.3,537.4 324.4,537.8 327.1,535.9 330.1,535.5 332.8,533.8 335.9,534.0 339.1,534.5 341.8,532.7 344.9,533.0 348.0,533.4 350.8,532.1 354.0,532.8 357.1,532.9 360.2,533.6 363.3,533.9 365.8,530.8 368.8,530.6 372.1,531.8 375.1,531.5 378.0,530.5 380.7,528.4 383.6,528.0 386.8,528.7 389.5,526.8 392.6,526.6 395.5,525.8 398.5,525.6 401.7,526.3 404.3,524.2 407.3,523.7 410.3,523.5 413.2,522.4 416.2,522.4 418.9,520.5 421.5,518.5 424.6,518.4 427.6,518.2 430.5,517.6 433.4,516.5 436.1,515.0 439.2,515.0 442.1,514.4 444.9,513.1 447.9,512.6 450.9,512.2 454.0,512.4 457.1,512.5 459.8,510.8 462.5,509.3 465.4,508.7 468.4,507.9 471.3,507.2 474.1,506.0 476.8,504.7 479.9,504.5 483.0,504.5 485.5,502.5 488.3,501.2 491.2,500.5 494.0,499.5 496.8,498.3 499.6,497.2 502.6,496.5 505.4,495.6 508.3,494.7 511.2,493.9 514.0,492.9 516.8,491.8 519.7,491.0 522.5,489.9 525.2,488.5 527.9,487.2 530.9,486.5 533.6,485.4 536.4,484.1 539.3,483.5 542.2,482.6 545.1,481.7 547.8,480.4 550.5,479.0 553.4,478.1 556.1,477.0 558.9,475.7 561.6,474.5 564.4,473.6 567.3,472.8 570.1,471.8 573.0,470.9 575.9,470.0 578.7,468.9 581.5,467.9 584.4,467.2 587.3,466.2 590.0,464.9 593.0,464.4 596.0,463.8 598.6,462.2 601.3,460.9 604.1,459.9 606.9,458.6 609.8,457.9 612.7,457.0 615.3,455.5 618.1,454.4 620.9,453.1 623.7,452.0 626.5,451.0 629.2,449.6 632.1,448.7 635.0,447.8 637.7,446.6 640.3,445.0 643.0,443.7 645.8,442.6 648.6,441.5 651.3,440.3 653.9,438.7 656.6,437.4 659.2,435.9 661.7,434.3 664.3,432.7 666.8,431.1 669.3,429.4 671.9,427.9 674.7,426.8 677.2,425.1 679.7,423.3 682.2,421.7 684.4,419.7 686.9,418.0 689.5,416.3 691.4,414.0 693.3,411.6 695.1,409.2 696.6,406.5 697.9,403.8 699.0,401.0 700.8,398.5 702.6,396.1 704.2,393.6 706.1,391.2 708.0,388.9 709.8,386.5 711.6,384.1 713.1,381.5 714.6,378.9 716.4,376.5 717.8,373.8 719.2,371.1 720.9,368.6 722.8,366.3 724.5,363.8 725.5,360.9 727.0,358.3 728.5,355.7 729.7,352.9 731.7,350.6 733.4,348.2 734.8,345.5 736.5,343.1 738.0,340.5 739.5,337.9 741.1,335.4 741.9,334.7" fill="none" stroke="#5f8bcb" stroke-width="1.5" stroke-linejoin="round" stroke-linecap="round"/>
<polyline points="143.4,753.6 143.4,750.6 143.8,747.6 144.0,744.6 143.6,741.6 143.4,738.6 143.0,735.5 143.2,732.5 143.6,729.6 143.6,726.6 143.4,723.6 143.7,720.6 143.9,717.6 143.5,714.6 143.3,711.5 143.3,708.5 143.3,705.5 143.7,702.5 143.8,699.6 143.9,696.6 144.1,693.6 144.3,690.6 144.5,687.6 144.7,684.7 145.2,681.7 145.4,678.8 145.7,675.8 146.2,672.8 146.5,669.8 146.6,666.8 147.3,663.9 147.6,660.9 148.1,658.0 148.5,655.1 149.4,652.2 150.1,649.3 150.5,646.3 151.1,643.3 152.0,640.4 152.7,637.5 152.9,634.5 153.0,631.4 153.4,628.5 153.8,625.5 154.4,622.5 155.4,619.7 155.7,616.7 156.5,613.8 157.2,610.9 157.0,607.8 157.6,604.9 158.6,602.0 159.4,599.1 159.7,596.1 160.2,593.2 160.8,590.2 161.5,587.4 162.0,584.4 163.0,581.7 164.1,578.9 164.9,576.0 166.2,573.3 168.8,571.5 171.3,569.9 172.8,567.5 174.2,564.9 175.9,562.6 178.8,561.7 181.1,560.2 183.7,559.1 186.2,557.7 188.9,556.9 191.7,556.2 194.3,555.4 197.2,555.6 199.8,553.8 202.5,552.4 205.6,552.8 208.8,553.7 211.6,552.9 214.2,550.4 217.1,550.1 220.0,550.2 223.0,550.4 225.9,550.3 228.8,549.5 231.8,549.6 234.9,549.9 238.0,551.5 240.9,549.6 243.9,548.5 247.1,550.6 250.1,549.5 253.2,549.5 256.3,550.4 259.2,549.6 262.0,547.7 264.9,546.9 268.1,548.5 270.9,546.7 273.7,544.1 276.7,544.4 279.7,544.1 282.7,544.1 285.9,545.5 289.0,546.8 292.0,545.8 294.8,543.6 297.8,543.7 300.8,543.8 303.7,541.9 306.7,541.7 309.6,540.7 312.7,541.3 315.8,541.8 318.7,540.6 321.8,540.7 324.6,539.6 327.3,537.4 330.5,538.0 333.3,536.7 336.4,537.1 339.7,538.4 342.7,538.2 345.5,536.5 348.1,534.1 351.2,534.3 354.5,535.7 357.5,535.6 360.3,534.0 363.1,532.7 366.1,532.2 369.2,532.3 371.9,530.7 375.0,530.8 378.3,532.0 380.9,529.4 383.8,528.7 387.1,530.0 390.0,529.2 392.7,527.6 395.6,526.3 398.5,525.9 402.0,527.8 404.9,527.0 407.7,525.9 410.6,525.0 413.4,523.6 416.4,523.1 419.3,522.5 422.4,522.5 425.4,522.1 428.1,520.3 430.8,518.7 433.9,518.7 436.8,518.0 439.6,517.0 442.6,516.9 445.5,516.1 448.2,514.3 451.0,512.9 454.3,513.7 457.3,513.3 459.8,510.9 462.5,509.4 465.7,509.6 468.7,509.0 471.2,506.9 474.1,506.1 477.3,506.2 480.1,505.0 482.8,503.6 485.6,502.7 488.4,501.6 491.3,500.8 494.1,499.7 496.9,498.7 499.9,497.9 502.6,496.7 505.4,495.6 508.2,494.6 511.2,494.1 514.0,493.0 516.7,491.5 519.5,490.5 522.3,489.3 525.2,488.4 528.1,487.6 530.9,486.6 533.7,485.6 536.5,484.4 539.3,483.5 542.0,482.1 544.9,481.2 547.7,480.2 550.5,479.0 553.3,478.1 556.1,476.9 558.8,475.5 561.6,474.5 564.4,473.5 567.2,472.4 569.9,471.2 572.8,470.3 575.7,469.4 578.6,468.7 581.5,468.0 584.4,467.2 587.3,466.3 590.1,465.2 593.0,464.3 595.8,463.2 598.6,462.1 601.4,461.2 604.3,460.2 607.1,459.1 609.7,457.6 612.6,456.8 615.5,456.0 618.1,454.4 620.8,452.9 623.7,452.2 626.6,451.3 629.3,450.0 632.3,449.4 635.1,448.1 637.7,446.7 640.5,445.4 643.1,444.0 645.8,442.6 648.5,441.5 651.4,440.4 654.0,439.0 656.7,437.6 659.1,435.8 661.5,433.9 664.2,432.5 666.9,431.3 669.2,429.3 671.5,427.2 674.2,425.9 677.1,424.8 680.0,423.8 682.5,422.1 684.8,420.2 687.1,418.2 689.3,416.1 691.4,413.9 693.4,411.8 694.9,409.1 696.2,406.3 697.9,403.8 699.3,401.1 700.7,398.5 702.6,396.1 704.5,393.8 706.3,391.4 708.1,389.0 710.0,386.6 711.8,384.2 713.4,381.7 714.9,379.1 716.4,376.4 718.0,373.9 719.4,371.2 720.5,368.4 722.5,366.1 724.2,363.6 725.3,360.8 726.8,358.2 728.4,355.6 729.8,353.0 731.2,350.4 733.1,348.0 734.8,345.5 736.3,342.9 737.9,340.5 739.7,338.1 741.3,335.5 741.9,334.7" fill="none" stroke="#5f8bcb" stroke-width="2.7" stroke-linejoin="round" stroke-linecap="round"/>
<polyline points="741.5,335 742.8,342 743.3,352 743,364 741.8,376 739,386.5" fill="none" stroke="#5f8bcb" stroke-width="3" stroke-linejoin="round" stroke-linecap="round"/>
<polyline points="140,752 138.6,720 136.4,690 137.5,672 141,655 146,640" fill="none" stroke="#5f8bcb" stroke-width="1.2"/>
</g>
<line x1="661.8" y1="76.6" x2="661.8" y2="753.6" stroke="#15140e" stroke-width="2.0" stroke-dasharray="7.8 7.59" stroke-dashoffset="-0.6"/>
<polyline points="127.4,549.0 130.8,549.0 134.2,549.0 137.7,549.0 141.1,549.0 144.5,549.0 147.9,549.0 151.3,549.0 154.7,549.0 158.2,548.9 161.6,548.9 165.0,548.8 168.4,548.8 171.8,548.7 175.2,548.6 178.7,548.5 182.1,548.4 185.5,548.3 188.9,548.2 192.3,548.1 195.7,547.9 199.2,547.8 202.6,547.7 206.0,547.6 209.4,547.5 212.8,547.4 216.2,547.2 219.6,547.1 223.1,546.9 226.5,546.7 229.9,546.5 233.3,546.3 236.7,546.1 240.1,545.8 243.5,545.5 246.9,545.3 250.3,545.0 253.7,544.7 257.2,544.5 260.6,544.2 264.0,543.9 267.4,543.7 270.8,543.4 274.2,543.2 277.6,542.9 281.0,542.6 284.4,542.4 287.8,542.1 291.2,541.8 294.6,541.5 298.0,541.2 301.4,540.8 304.8,540.5 308.2,540.1 311.6,539.8 315.0,539.4 318.4,539.1 321.8,538.7 325.2,538.4 328.6,538.0 332.0,537.6 335.4,537.3 338.8,536.9 342.2,536.5 345.6,536.1 349.0,535.7 352.4,535.2 355.8,534.7 359.1,534.2 362.5,533.7 365.9,533.1 369.3,532.5 372.6,531.9 376.0,531.3 379.4,530.7 382.7,530.1 386.1,529.5 389.4,528.8 392.8,528.2 396.2,527.6 399.5,527.0 402.9,526.4 406.2,525.8 409.6,525.2 413.0,524.6 416.4,524.0 419.7,523.4 423.1,522.9 426.5,522.3 429.8,521.7 433.2,521.0 436.5,520.3 439.9,519.6 443.2,518.9 446.5,518.1 449.8,517.3 453.2,516.4 456.5,515.6 459.8,514.8 463.1,514.0 466.5,513.2 469.8,512.5 473.1,511.7 476.4,510.9 479.8,510.1 483.1,509.3 486.4,508.5 489.7,507.7 493.0,506.9 496.4,506.0 499.7,505.2 503.0,504.3 506.3,503.4 509.5,502.4 512.8,501.5 516.1,500.5 519.4,499.5 522.6,498.5 525.9,497.4 529.1,496.4 532.4,495.3 535.6,494.2 538.8,493.1 542.1,492.0 545.3,490.8 548.5,489.7 551.7,488.5 554.9,487.3 558.2,486.1 561.4,484.9 564.6,483.7 567.8,482.5 570.9,481.3 574.1,480.0 577.3,478.8 580.5,477.5 583.7,476.3 586.8,475.0 590.0,473.7 593.2,472.5 596.4,471.2 599.5,469.9 602.7,468.6 605.8,467.3 609.0,466.0 612.1,464.7 615.3,463.3 618.5,462.0 621.6,460.7 624.7,459.3 627.9,458.0 631.0,456.6 634.1,455.2 637.3,453.8 640.4,452.4 643.5,451.0 646.5,449.5 649.6,448.0 652.7,446.5 655.7,444.9 658.8,443.4 661.8,441.7 664.8,440.1 667.8,438.5 670.7,436.8 673.7,435.0 676.6,433.3 679.5,431.5 682.5,429.7 685.3,427.9 688.2,426.1 691.1,424.2 694.0,422.3 696.8,420.4 699.6,418.5 702.5,416.6 705.3,414.7 708.1,412.7 710.9,410.7 713.7,408.8 716.5,406.8 719.3,404.8 722.1,402.8 724.8,400.8 727.6,398.8 730.4,396.8 733.2,394.8 735.9,392.8 738.7,390.8 741.4,388.7 744.1,386.6 746.8,384.6 749.5,382.5 752.2,380.3 754.9,378.2 757.5,376.0 760.2,373.8 762.8,371.6 765.4,369.4 767.9,367.1 770.5,364.8 773.0,362.5 775.5,360.1 777.9,357.7 780.4,355.3 782.8,352.9 785.2,350.4 787.5,347.9 789.8,345.4 792.1,342.8 794.3,340.3 796.5,337.6 798.6,335.0 800.7,332.3 802.8,329.6 804.9,326.9 807.0,324.2 809.1,321.5 811.2,318.8 813.4,316.1 815.6,313.5 817.8,310.9 820.0,308.3 822.3,305.7 824.5,303.1 826.7,300.5 828.8,297.9 830.9,295.2 833.0,292.4 835.0,289.7 837.0,286.9 838.9,284.1 840.8,281.3 842.8,278.4 844.7,275.6 846.6,272.8 848.6,270.0 850.6,267.2 852.5,264.4 854.5,261.6 856.5,258.8 858.4,256.0 860.3,253.2 862.2,250.3 864.0,247.4 865.8,244.5 867.5,241.6 869.2,238.6 870.9,235.6 872.5,232.6 874.1,229.6 875.7,226.6 877.3,223.5 879.0,220.5 880.6,217.5 882.3,214.6 884.0,211.6 885.6,208.6 887.3,205.6 889.0,202.7 890.7,199.7 892.3,196.7 894.0,193.7 895.6,190.7 897.2,187.7 898.8,184.6 900.3,181.6 901.8,178.5 903.4,175.5 904.9,172.4 906.3,169.3 907.8,166.2 909.3,163.1 910.7,160.0 912.1,156.9 913.5,153.8 915.0,150.7 916.3,147.6 917.7,144.4 919.1,141.3 920.4,138.2 921.7,135.0 923.1,131.9 924.3,128.7 925.6,125.5 926.9,122.3 928.2,119.2 929.4,116.0 930.7,112.8 931.9,109.6 933.2,106.5 934.4,103.3 935.7,100.1 937.0,96.9 938.3,93.8 939.6,90.6 941.0,87.5 942.3,84.3 943.7,81.2 945.1,78.1" fill="none" stroke="#15140e" stroke-width="3.7" stroke-dasharray="15.5 15.3" stroke-dashoffset="0"/>
<line x1="127.4" y1="155.3" x2="961.6" y2="155.3" stroke="#15140e" stroke-width="3.8"/>
<line x1="661.8" y1="753.6" x2="961.6" y2="580" stroke="#15140e" stroke-width="3.9"/>
<line x1="499.8" y1="389.8" x2="499.8" y2="594.8" stroke="#15140e" stroke-width="2.8"/>
<polyline points="488.5,477.6 499.8,495.5 511.1,477.6" fill="none" stroke="#15140e" stroke-width="2.5"/>
<polyline points="488.5,555.7 499.8,537.8 511.1,555.7" fill="none" stroke="#15140e" stroke-width="2.5"/>
<line x1="399.2" y1="572.3" x2="446" y2="662.5" stroke="#15140e" stroke-width="2.0"/>
<line x1="792.8" y1="355.5" x2="842.0" y2="452.6" stroke="#15140e" stroke-width="2.0"/>
<polyline points="533.6,456.3 536.0,455.6 538.3,455.0 540.6,454.2 543.0,453.5 545.3,452.7 547.6,451.9 549.9,451.1 552.2,450.3 554.5,449.4 556.8,448.5 559.1,447.6 561.3,446.7 563.6,445.8 565.8,444.9 568.1,443.9 570.3,442.9 572.6,441.9 574.8,440.9 577.0,440.0 579.3,439.0 581.5,438.0 583.7,437.0 586.0,436.0 588.2,435.0 590.5,434.0 592.7,433.1 595.0,432.1 597.2,431.2 599.5,430.3" fill="none" stroke="#15140e" stroke-width="2.5"/>
<path d="M614.5,423.3 L592.9,425.8 L599.7,430.9 L601.1,439.5 Z" fill="#15140e"/>
<polyline points="646.3,501.5 643.4,503.2 640.5,504.9 637.7,506.6 634.8,508.3 631.9,510.1 629.0,511.8 626.1,513.5 623.2,515.2 620.3,516.9 617.4,518.6 614.5,520.2 611.5,521.8 608.6,523.4 605.6,524.9 602.5,526.3 599.5,527.7 596.4,529.1 593.3,530.4 590.2,531.6 587.1,532.8 583.9,534.0 580.8,535.1 577.6,536.2 574.4,537.3 571.2,538.4 568.0,539.5 564.9,540.5 561.7,541.6 558.5,542.6" fill="none" stroke="#15140e" stroke-width="2.5"/>
<path d="M541.2,548.5 L556.6,534.6 L558,542.8 L562.3,549.9 Z" fill="#15140e"/>
<text x="545" y="30" font-size="43.45" text-anchor="middle" fill="#1b1b18" stroke="#1b1b18" stroke-width="0.3" font-family="'Liberation Sans', Arial, Helvetica, sans-serif" >bilateral, 300mm, 300Pa</text>
<text x="115.4" y="83.60000000000001" font-size="38.2" text-anchor="end" fill="#1b1b18" stroke="#1b1b18" stroke-width="0.3" font-family="'Liberation Sans', Arial, Helvetica, sans-serif" >12.0</text>
<text x="115.4" y="197.3" font-size="38.2" text-anchor="end" fill="#1b1b18" stroke="#1b1b18" stroke-width="0.3" font-family="'Liberation Sans', Arial, Helvetica, sans-serif" >10.0</text>
<text x="115.4" y="309.5" font-size="38.2" text-anchor="end" fill="#1b1b18" stroke="#1b1b18" stroke-width="0.3" font-family="'Liberation Sans', Arial, Helvetica, sans-serif" >8.0</text>
<text x="115.4" y="422.29999999999995" font-size="38.2" text-anchor="end" fill="#1b1b18" stroke="#1b1b18" stroke-width="0.3" font-family="'Liberation Sans', Arial, Helvetica, sans-serif" >6.0</text>
<text x="115.4" y="534.5" font-size="38.2" text-anchor="end" fill="#1b1b18" stroke="#1b1b18" stroke-width="0.3" font-family="'Liberation Sans', Arial, Helvetica, sans-serif" >4.0</text>
<text x="115.4" y="648.1999999999999" font-size="38.2" text-anchor="end" fill="#1b1b18" stroke="#1b1b18" stroke-width="0.3" font-family="'Liberation Sans', Arial, Helvetica, sans-serif" >2.0</text>
<text x="115.4" y="762.4" font-size="38.2" text-anchor="end" fill="#1b1b18" stroke="#1b1b18" stroke-width="0.3" font-family="'Liberation Sans', Arial, Helvetica, sans-serif" >0.0</text>
<text x="127.6" y="793.5" font-size="38.2" text-anchor="middle" fill="#1b1b18" stroke="#1b1b18" stroke-width="0.3" font-family="'Liberation Sans', Arial, Helvetica, sans-serif" >0</text>
<text x="242" y="793.5" font-size="38.2" text-anchor="middle" fill="#1b1b18" stroke="#1b1b18" stroke-width="0.3" font-family="'Liberation Sans', Arial, Helvetica, sans-serif" >10</text>
<text x="359" y="793.5" font-size="38.2" text-anchor="middle" fill="#1b1b18" stroke="#1b1b18" stroke-width="0.3" font-family="'Liberation Sans', Arial, Helvetica, sans-serif" >20</text>
<text x="478.4" y="793.5" font-size="38.2" text-anchor="middle" fill="#1b1b18" stroke="#1b1b18" stroke-width="0.3" font-family="'Liberation Sans', Arial, Helvetica, sans-serif" >30</text>
<text x="599.6" y="793.5" font-size="38.2" text-anchor="middle" fill="#1b1b18" stroke="#1b1b18" stroke-width="0.3" font-family="'Liberation Sans', Arial, Helvetica, sans-serif" >40</text>
<text x="718.5" y="793.5" font-size="38.2" text-anchor="middle" fill="#1b1b18" stroke="#1b1b18" stroke-width="0.3" font-family="'Liberation Sans', Arial, Helvetica, sans-serif" >50</text>
<text x="836.4" y="793.5" font-size="38.2" text-anchor="middle" fill="#1b1b18" stroke="#1b1b18" stroke-width="0.3" font-family="'Liberation Sans', Arial, Helvetica, sans-serif" >60</text>
<text x="957" y="793.5" font-size="38.2" text-anchor="middle" fill="#1b1b18" stroke="#1b1b18" stroke-width="0.3" font-family="'Liberation Sans', Arial, Helvetica, sans-serif" >70</text>
<text x="545.6" y="850.3" font-size="43.3" text-anchor="middle" fill="#1b1b18" stroke="#1b1b18" stroke-width="0.3" font-family="'Liberation Sans', Arial, Helvetica, sans-serif" font-weight="700" >angle (degrees)</text>
<text x="0" y="0" font-size="43.7" text-anchor="middle" fill="#1b1b18" stroke="#1b1b18" stroke-width="0.3" font-family="'Liberation Sans', Arial, Helvetica, sans-serif" font-weight="700" transform="translate(32.3,416) rotate(-90)">force (N)</text>
<text x="442.4" y="137.0" font-size="43.7" text-anchor="middle" fill="#1b1b18" stroke="#1b1b18" stroke-width="0.3" font-family="'Liberation Sans', Arial, Helvetica, sans-serif" >buckling limit</text>
<text x="0" y="0" font-size="43.2" text-anchor="middle" fill="#1b1b18" stroke="#1b1b18" stroke-width="0.3" font-family="'Liberation Sans', Arial, Helvetica, sans-serif" transform="translate(650.4,275.95) rotate(-90)">patch limit</text>
<text x="500.4" y="323.1" font-size="38.2" text-anchor="middle" fill="#1b1b18" stroke="#1b1b18" stroke-width="0.3" font-family="'Liberation Sans', Arial, Helvetica, sans-serif" >folding</text>
<text x="500.2" y="367" font-size="38.2" text-anchor="middle" fill="#1b1b18" stroke="#1b1b18" stroke-width="0.3" font-family="'Liberation Sans', Arial, Helvetica, sans-serif" >hysteresis</text>
<text x="862.4" y="489.7" font-size="43.7" text-anchor="middle" fill="#1b1b18" stroke="#1b1b18" stroke-width="0.3" font-family="'Liberation Sans', Arial, Helvetica, sans-serif" >model</text>
<text x="458.8" y="697.1" font-size="43.7" text-anchor="middle" fill="#1b1b18" stroke="#1b1b18" stroke-width="0.3" font-family="'Liberation Sans', Arial, Helvetica, sans-serif" >measurement</text>
<text x="0" y="0" font-size="43.7" text-anchor="start" fill="#1b1b18" stroke="#1b1b18" stroke-width="0.3" font-family="'Liberation Sans', Arial, Helvetica, sans-serif" transform="translate(723.5,688.5) rotate(-29.3)">body shear</text>
</svg>
</body></html>
